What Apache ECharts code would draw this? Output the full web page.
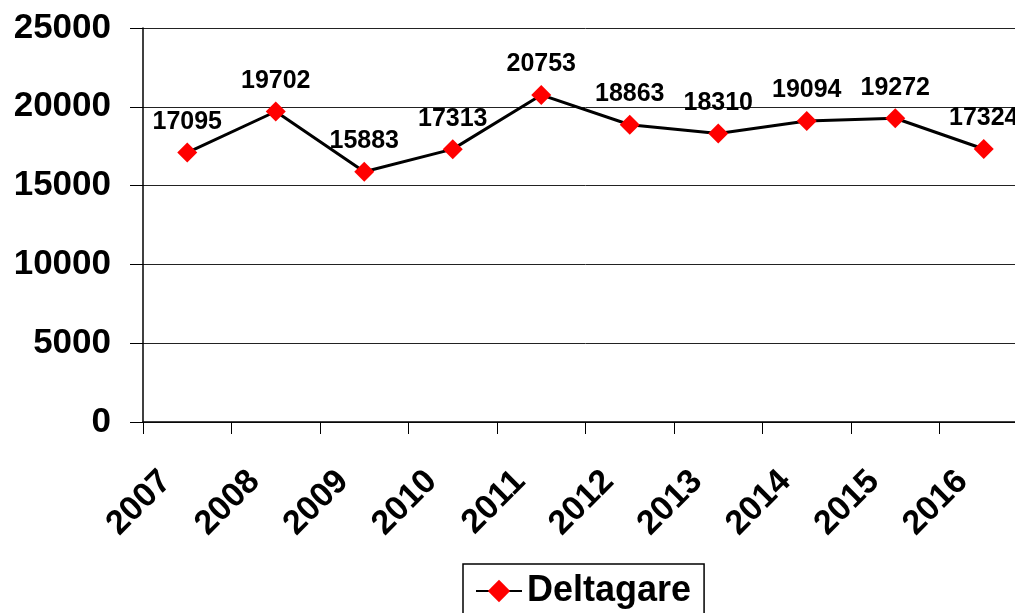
<!DOCTYPE html>
<html>
<head>
<meta charset="utf-8">
<script src="https://cdn.jsdelivr.net/npm/echarts@6/dist/echarts.min.js"></script>
<style>
  html, body { margin: 0; padding: 0; background: #fff; overflow: hidden; }
  /* the original plot runs a little past the right edge, so the canvas is wider than the window */
  #chart { width: 1040px; height: 613px; }
</style>
</head>
<body>
<div id="chart"></div>
<script>
// values
const years = ['2007', '2008', '2009', '2010', '2011', '2012', '2013', '2014', '2015', '2016'];
const deltagare = [17095, 19702, 15883, 17313, 20753, 18863, 18310, 19094, 19272, 17324];
const seriesName = 'Deltagare';

const fontFamily = '"Liberation Sans", Arial, sans-serif';

const chart = echarts.init(document.getElementById('chart'));
chart.setOption({
	animation: false,
	textStyle: { fontFamily: fontFamily },
	grid: { left: 143, top: 28, width: 885, height: 394 },
	legend: {
		data: [seriesName],
		left: 463,
		top: 564,
		padding: [9, 13, 12, 12],
		itemWidth: 46,
		itemHeight: 28,
		itemGap: 0,
		borderColor: '#000',
		borderWidth: 1.5,
		textStyle: { fontSize: 36, fontWeight: 'bold', color: '#000', fontFamily: fontFamily }
	},
	xAxis: {
		type: 'category',
		data: years,
		boundaryGap: true,
		axisLine: { lineStyle: { color: '#000', width: 1.5 } },
		axisTick: { show: true, length: 12, alignWithLabel: false, lineStyle: { color: '#000' } },
		axisLabel: {
			rotate: 45,
			margin: 33,
			padding: [0, 30, 0, 0],
			fontSize: 34,
			fontWeight: 'bold',
			color: '#000',
			fontFamily: fontFamily
		},
		splitLine: { show: false }
	},
	yAxis: {
		type: 'value',
		min: 0,
		max: 25000,
		interval: 5000,
		axisLine: { show: true, lineStyle: { color: '#000', width: 1.5 } },
		axisTick: { show: true, length: 13, lineStyle: { color: '#000' } },
		axisLabel: {
			margin: 32,
			fontSize: 35,
			fontWeight: 'bold',
			color: '#000',
			fontFamily: fontFamily,
			formatter: (v) => String(v)
		},
		splitLine: { show: true, lineStyle: { color: '#222', width: 1 } }
	},
	series: [{
		name: seriesName,
		type: 'line',
		data: deltagare,
		symbol: 'diamond',
		symbolSize: 20,
		itemStyle: { color: '#ff0000' },
		lineStyle: { color: '#000', width: 3 },
		label: {
			show: true,
			position: 'top',
			distance: 8,
			fontSize: 25,
			fontWeight: 'bold',
			color: '#000',
			fontFamily: fontFamily
		}
	}]
});
</script>
</body>
</html>
